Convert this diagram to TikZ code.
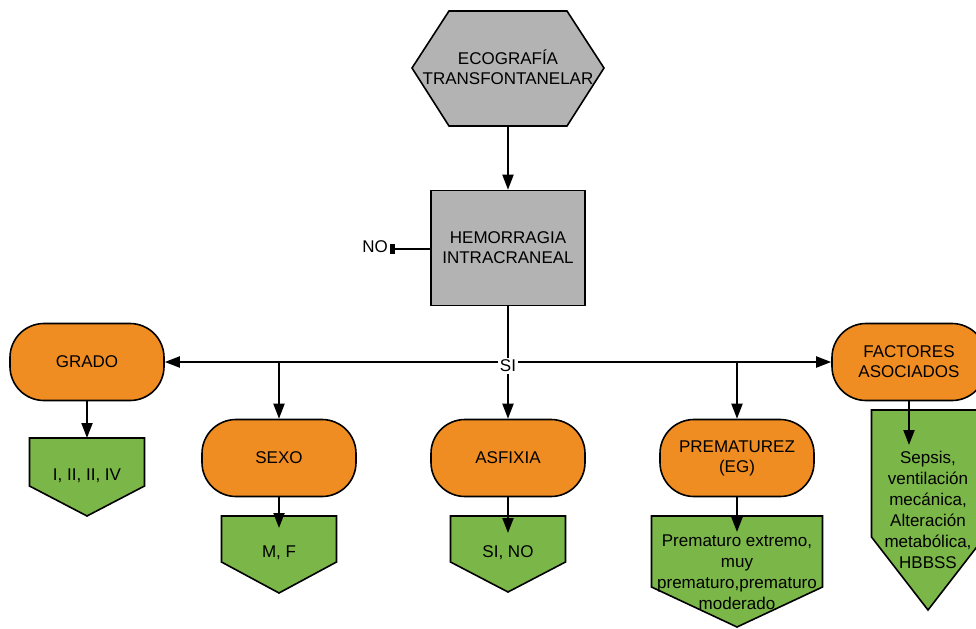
\documentclass[tikz,border=0pt]{standalone}
\usepackage{fontspec}
\setmainfont{Liberation Sans}
\usetikzlibrary{positioning,arrows.meta}

\definecolor{boxgray}{HTML}{B3B3B3}
\definecolor{boxorange}{HTML}{EF8D22}
\definecolor{boxgreen}{HTML}{7AB648}

\begin{document}
\begin{tikzpicture}[x=0.5pt,y=-0.5pt,
    every node/.style={font=\fontsize{8.5}{10}\selectfont,align=center},
    stadium/.style={draw,line width=0.8pt,fill=boxorange,rounded corners=17pt,
      minimum width=77pt,minimum height=38.5pt},
    valbox/.style={draw,line width=0.8pt,fill=boxgreen},
    arr/.style={line width=1pt,-{Triangle[length=7.5pt,width=5.5pt]}},
    link/.style={line width=1pt}]

    \clip (0,0) rectangle (976,628); %picture size

    %hexagon on top
    \filldraw[fill=boxgray,line width=0.8pt] (412,68) -- (449,11) -- (567,11)
      -- (604,68) -- (567,126) -- (449,126) -- cycle;
    \node (eco) at (508,67) {ECOGRAF\'IA\\TRANSFONTANELAR};
    \coordinate (ecoS) at (508,126);

    \node[draw,fill=boxgray,line width=0.8pt,minimum width=77pt,minimum height=57.5pt]
      (hem) at (508,248) {HEMORRAGIA\\INTRACRANEAL};
    \node[inner sep=1pt] (no) at (375,247) {NO};

    \draw[arr] (ecoS) -- (hem);
    \draw[link,-{Rectangle[length=2.5pt,width=5pt]}] (hem.west |- 0,249) -- (no.east |- 0,249);

    %orange boxes
    \node[stadium] (grado) at (87,362) {GRADO};
    \node[stadium] (sexo) at (279,458) {SEXO};
    \node[stadium] (asf) at (508,458) {ASFIXIA};
    \node[stadium] (prem) at (737,458) {PREMATUREZ\\(EG)};
    \node[stadium] (fact) at (909,362) {FACTORES\\ASOCIADOS};

    %green boxes
    \foreach \cx/\top/\hw/\rh/\ph in {87/438/57.5/48/30, 279/516/57.5/46/31,
      508/516/57.5/46/30, 737/516/85.5/71/40, 928/410/56.5/127/73} {
      \filldraw[valbox] (\cx-\hw,\top) -- (\cx+\hw,\top) -- (\cx+\hw,\top+\rh)
        -- (\cx,\top+\rh+\ph) -- (\cx-\hw,\top+\rh) -- cycle;
    }
    \node (gradoVal) at (87,476) {I, II, II, IV};
    \node (sexoVal) at (279,553) {M, F};
    \node (asfVal) at (508,553) {SI, NO};
    \node[font=\fontsize{8.5}{10.5}\selectfont] (premVal) at (737,572)
      {Prematuro extremo,\\muy\\prematuro,prematuro\\moderado};
    \node[font=\fontsize{8.5}{10.5}\selectfont] (factVal) at (928,510)
      {Sepsis,\\ventilaci\'on\\mec\'anica,\\Alteraci\'on\\metab\'olica,\\HBBSS};

    \coordinate (gradoIn) at (87,438);
    \coordinate (sexoIn) at (279,528);
    \coordinate (asfIn) at (508,533);
    \coordinate (premIn) at (737,532);
    \coordinate (factIn) at (909,445);

    %connectors
    \draw[line width=1pt,{Triangle[length=7.5pt,width=5.5pt]}-{Triangle[length=7.5pt,width=5.5pt]}]
      (grado) -- (fact);
    \draw[arr] (sexo |- grado) -- (sexo);
    \draw[arr] (prem |- grado) -- (prem);
    \node[fill=white,inner sep=1pt] (si) at (508,366) {SI};
    \draw[link] (hem) -- (si);
    \draw[arr] (si) -- (asf);

    \draw[arr] (grado) -- (gradoIn);
    \draw[arr] (sexo) -- (sexoIn);
    \draw[arr] (asf) -- (asfIn);
    \draw[arr] (prem) -- (premIn);
    \draw[arr] (fact.south) -- (factIn);

\end{tikzpicture}
\end{document}
